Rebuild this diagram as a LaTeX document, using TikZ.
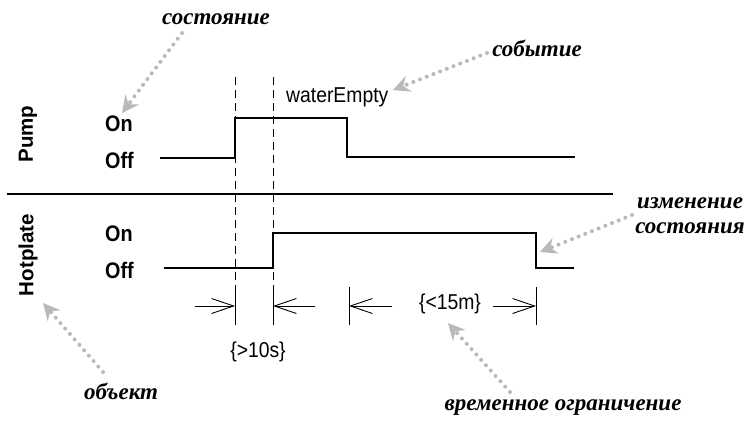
\documentclass[tikz,border=0pt]{standalone}
\usepackage{fontspec}
\setmainfont{Liberation Sans}
\newfontfamily\notefont{Liberation Serif}
\usepackage{tikz}
\usetikzlibrary{arrows.meta}

\tikzset{
	sig/.style={line width=1.1pt,line join=miter},
	lvl/.style={font=\bfseries\fontsize{22.5}{22.5}\selectfont,xscale=0.88,anchor=west,inner sep=0pt},
	obj/.style={font=\bfseries\fontsize{20.5}{20.5}\selectfont,rotate=90,inner sep=0pt},
	txt/.style={font=\fontsize{21.5}{21.5}\selectfont,xscale=0.9,inner sep=0pt},
	note/.style={font=\notefont\bfseries\itshape\fontsize{23}{25}\selectfont,align=center,inner sep=0pt},
	hint/.style={draw=gray!55,line width=4pt,line cap=round,dash pattern=on 0pt off 7.2pt,
		-{Stealth[length=17pt,width=17pt,inset=6pt,line width=0pt,fill=gray!55]}},
	dim/.style={line width=0.9pt,-{Straight Barb[length=22pt,width=15pt,line width=0.9pt]}},
	guide/.style={line width=0.9pt,dash pattern=on 8pt off 5pt},
}

\begin{document}
\begin{tikzpicture}[x=1pt,y=-1pt]
			\useasboundingbox (0,0) rectangle (747,421);
			
			% object and level labels
			\node[obj] (pump) at (28,134) {Pump};
			\node[obj] (hotplate) at (28,255) {Hotplate};
			\node[lvl] (pumpOn) at (105,123.5) {On};
			\node[lvl] (pumpOff) at (105,160) {Off};
			\node[lvl] (heatOn) at (105,233.5) {On};
			\node[lvl] (heatOff) at (105,270) {Off};
			
			\draw[line width=2.6pt] (7,194)--(613,194);
			
			% time lines
			\foreach \x in {235,273}{
				\draw[guide] (\x,77)--(\x,287);
				\draw[line width=0.9pt] (\x,287)--(\x,325);
			}
			\draw[line width=0.9pt] (349,287)--(349,325);
			\draw[line width=0.9pt] (536,287)--(536,325);
			
			% signals
			\draw[sig] (160,158)--(235,158)--(235,118)--(347,118)--(347,157)--(575,157);
			\draw[sig] (164,268)--(273,268)--(273,233)--(536,233)--(536,268)--(574,268);
			
			\node[txt,anchor=base west] (evt) at (286,102) {waterEmpty};
			
			% constraints
			\coordinate (a1) at (195,306);
			\coordinate (b1) at (235,306);
			\coordinate (a2) at (315,306);
			\coordinate (b2) at (273,306);
			\coordinate (a3) at (392,306);
			\coordinate (b3) at (349,306);
			\coordinate (a4) at (493,306);
			\coordinate (b4) at (536,306);
			\foreach \i in {1,...,4}
				\draw[dim] (a\i)--(b\i);
			\node[txt] (lim10) at (258,351.5) {\{>10s\}};
			\node[txt] (lim15) at (450,304) {\{<15m\}};
			
			% notes
			\node[note] (nState) at (216,19) {состояние};
			\node[note] (nEvent) at (537,48) {событие};
			\node[note] (nChange) at (690,216) {изменение\\состояния};
			\node[note] (nObject) at (121,391) {объект};
			\node[note] (nLimit) at (563,408) {временное ограничение};
			
			\coordinate (sTail) at (182,33);
			\coordinate (sTip) at (122,113);
			\coordinate (eTail) at (487,53);
			\coordinate (eTip) at (393,90);
			\coordinate (cTail) at (632,215);
			\coordinate (cTip) at (540,252);
			\coordinate (oTail) at (103,372);
			\coordinate (oTip) at (43,303);
			\coordinate (lTail) at (510,392);
			\coordinate (lTip) at (448,323);
			\foreach \p in {s,e,c,o,l}
				\draw[hint] (\p Tail)--(\p Tip);
		\end{tikzpicture}
\end{document}
